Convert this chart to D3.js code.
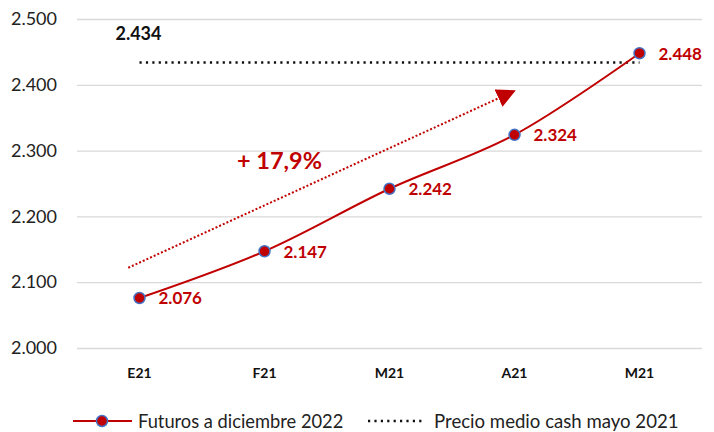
<!DOCTYPE html>
<html><head><meta charset="utf-8">
<script src="https://cdn.jsdelivr.net/npm/d3@7"></script>
<style>body{margin:0;background:#fff}svg{display:block}text{font-family:Lato,"Open Sans",sans-serif}</style>
</head><body><svg id="c" width="714" height="432"></svg>
<script>
const categories = ["E21","F21","M21","A21","M21"];
const futures = [2.076, 2.147, 2.242, 2.324, 2.448];
const cashPrice = 2.434;
const yTicks = [2.0, 2.1, 2.2, 2.3, 2.4, 2.5];
const arrowFrom = [-0.09, 2.122];
const arrowTo = [2.9, 2.382];
const changeLabel = "+ 17,9%";
const legendLabels = ["Futuros a diciembre 2022", "Precio medio cash mayo 2021"];

(function(){
const svg = d3.select("#c");
const pLeft = 77, pRight = 702, pTop = 19, pBottom = 348;
const y = d3.scaleLinear().domain([2.0, 2.5]).range([pBottom, pTop]);
const band = d3.scaleBand().domain(d3.range(categories.length)).range([pLeft, pRight]);
const x = d3.scaleLinear().domain([0, categories.length - 1])
  .range([band(0) + band.bandwidth()/2, band(categories.length-1) + band.bandwidth()/2]);
const fmtDot = v => v.toFixed(3);

// grid
const yAxis = d3.axisLeft(y).tickValues(yTicks).tickSize(-(pRight-pLeft)).tickFormat(d => d.toFixed(3));
const gy = svg.append("g").attr("transform", `translate(${pLeft},0)`).call(yAxis);
gy.select(".domain").remove();
gy.selectAll(".tick line").attr("stroke", "#d9d9d9").attr("stroke-width", 1.3);
gy.selectAll(".tick text").attr("x", -20).attr("fill", "#222").style("font-size", "18px").style("font-family", "Lato");

// x axis labels
const xAxis = d3.axisBottom(band).tickSize(0).tickFormat(i => categories[i]);
const gx = svg.append("g").attr("transform", `translate(0,${pBottom})`).call(xAxis);
gx.select(".domain").remove();
gx.selectAll(".tick text").attr("dy", 0).attr("y", 30).attr("fill", "#111")
  .style("font-size", "14px").style("font-weight", "bold").style("font-family", "Lato");

// cash price dotted line
svg.append("line").attr("x1", x(0)).attr("x2", x(4)).attr("y1", y(cashPrice)).attr("y2", y(cashPrice))
  .attr("stroke", "#111").attr("stroke-width", 2.6).attr("stroke-dasharray", "2.2 4.2");
svg.append("text").attr("x", x(0) - 1).attr("y", y(cashPrice) - 22).attr("text-anchor", "middle")
  .attr("fill", "#111").style("font-size", "18px").style("font-weight", "bold").text(fmtDot(cashPrice));

// arrow
const defs = svg.append("defs");
defs.append("marker").attr("id", "ah").attr("viewBox", "0 0 10 10").attr("refX", 2).attr("refY", 5)
  .attr("markerWidth", 19).attr("markerHeight", 19).attr("markerUnits", "userSpaceOnUse")
  .attr("orient", "auto")
  .append("path").attr("d", "M0,0 L10,5 L0,10 Z").attr("fill", "#c00000");
svg.append("line").attr("x1", x(arrowFrom[0])).attr("y1", y(arrowFrom[1]))
  .attr("x2", x(arrowTo[0])).attr("y2", y(arrowTo[1]))
  .attr("stroke", "#c00000").attr("stroke-width", 2).attr("stroke-dasharray", "2 2")
  .attr("marker-end", "url(#ah)");
svg.append("text").attr("x", 237).attr("y", 169).attr("fill", "#c00000")
  .style("font-size", "23.5px").style("font-weight", "bold").text(changeLabel);

// futures line
const line = d3.line().x((d,i) => x(i)).y(d => y(d)).curve(d3.curveCatmullRom.alpha(0.5));
svg.append("path").datum(futures).attr("d", line).attr("fill", "none")
  .attr("stroke", "#c00000").attr("stroke-width", 2);
svg.selectAll("circle.pt").data(futures).join("circle").attr("class", "pt")
  .attr("cx", (d,i) => x(i)).attr("cy", d => y(d)).attr("r", 5.5)
  .attr("fill", "#c00000").attr("stroke", "#4472c4").attr("stroke-width", 1.5);
svg.selectAll("text.lbl").data(futures).join("text").attr("class", "lbl")
  .attr("x", (d,i) => x(i) + 19).attr("y", d => y(d) + 6.5).attr("fill", "#c00000")
  .style("font-size", "17px").style("font-weight", "bold").text(d => fmtDot(d));

// legend
const ly = 421;
svg.append("line").attr("x1", 73).attr("x2", 132).attr("y1", ly).attr("y2", ly)
  .attr("stroke", "#c00000").attr("stroke-width", 2);
svg.append("circle").attr("cx", 102).attr("cy", ly).attr("r", 5.5)
  .attr("fill", "#c00000").attr("stroke", "#4472c4").attr("stroke-width", 1.5);
svg.append("text").attr("x", 138).attr("y", ly + 7).attr("fill", "#222").style("font-size", "18.3px").text(legendLabels[0]);
svg.append("line").attr("x1", 368).attr("x2", 424).attr("y1", ly).attr("y2", ly)
  .attr("stroke", "#111").attr("stroke-width", 2.6).attr("stroke-dasharray", "2.2 4.2");
svg.append("text").attr("x", 434).attr("y", ly + 7).attr("fill", "#222").style("font-size", "18.6px").text(legendLabels[1]);
})();
</script></body></html>
